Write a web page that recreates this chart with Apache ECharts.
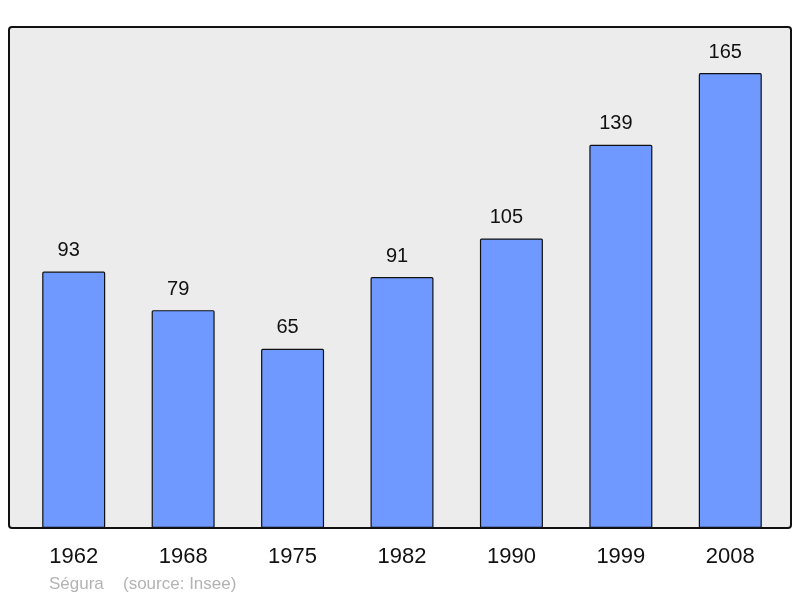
<!DOCTYPE html>
<html>
<head>
<meta charset="utf-8">
<script src="https://cdn.jsdelivr.net/npm/echarts@6/dist/echarts.min.js"></script>
<style>
  html, body { margin: 0; padding: 0; background: #fff; }
  #chart { width: 800px; height: 598px; }
</style>
</head>
<body>
<div id="chart"></div>
<script>
const years = ["1962", "1968", "1975", "1982", "1990", "1999", "2008"];
const population = [93, 79, 65, 91, 105, 139, 165];

const initChart = () => {
    const myChart = echarts.init(document.getElementById("chart"));
    const option = {
        animation: false,
        textStyle: { fontFamily: "Liberation Sans, Arial, sans-serif" },
        graphic: [
            {
                type: "rect",
                z: -10,
                shape: { x: 9, y: 27, width: 782, height: 501, r: 3 },
                style: { fill: "#ececec", stroke: "#111", lineWidth: 2 }
            },
            {
                type: "text",
                left: 49,
                top: 576,
                style: {
                    text: "Ségura",
                    fill: "#b3b3b3",
                    font: "17px Liberation Sans, Arial, sans-serif"
                }
            },
            {
                type: "text",
                left: 123,
                top: 576,
                style: {
                    text: "(source: Insee)",
                    fill: "#b3b3b3",
                    font: "17px Liberation Sans, Arial, sans-serif"
                }
            }
        ],
        grid: { left: 19, right: 15, top: 27, bottom: 70 },
        xAxis: {
            type: "category",
            data: years,
            axisLine: { show: false },
            axisTick: { show: false },
            axisLabel: { color: "#111", fontSize: 22, margin: 18 }
        },
        yAxis: {
            type: "value",
            min: 0,
            max: 181.7,
            show: false,
            splitLine: { show: false }
        },
        series: [
            {
                type: "bar",
                data: population,
                barWidth: 63,
                itemStyle: {
                    color: "#7099ff",
                    borderColor: "#111",
                    borderWidth: 1.2,
                    borderRadius: 1
                },
                label: {
                    show: true,
                    position: "top",
                    distance: 11,
                    offset: [-5, 0],
                    color: "#111",
                    fontSize: 20
                }
            }
        ]
    };
    myChart.setOption(option);
};

window.addEventListener("load", initChart);
</script>
</body>
</html>
